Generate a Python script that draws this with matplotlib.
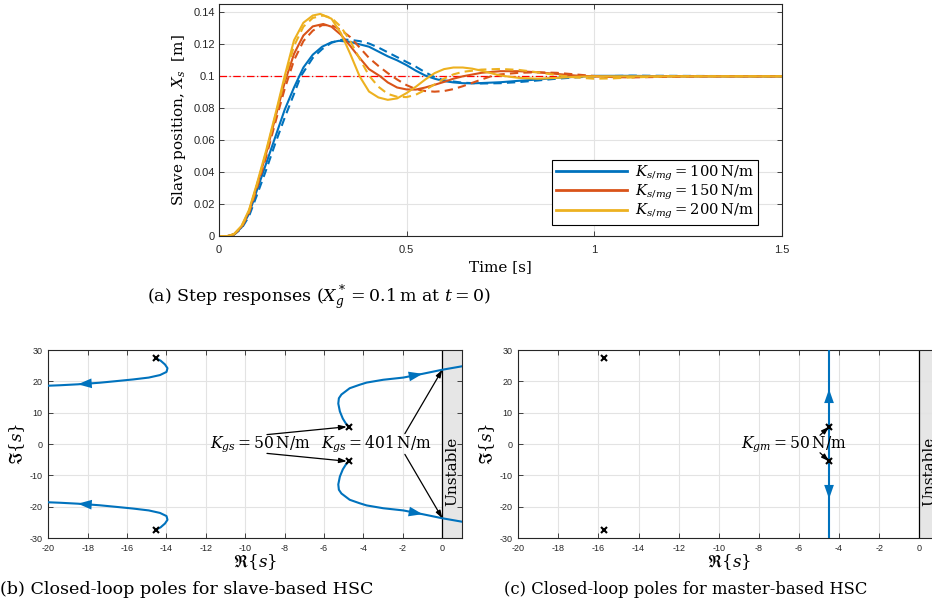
import numpy as np
import matplotlib
matplotlib.use('Agg')
import matplotlib.pyplot as plt

plt.rcParams['mathtext.fontset'] = 'dejavuserif'
plt.rcParams['axes.unicode_minus'] = False
SERIF = ['DejaVu Serif']
SANS = ['Liberation Sans', 'DejaVu Sans']

BLUE = '#0072BD'
ORANGE = '#D95319'
YELLOW = '#EDB120'
AXC = '#262626'

# ---------------- step responses (slave position vs time) ----------------
t_rise = [0.0, 0.02, 0.04, 0.06, 0.08, 0.1, 0.125, 0.15]

t_100 = t_rise + [0.175, 0.2, 0.225, 0.25, 0.275, 0.3, 0.32, 0.35, 0.375, 0.4, 0.425, 0.45,
                  0.475, 0.5, 0.525, 0.55, 0.575, 0.6, 0.625, 0.65, 0.675, 0.7, 0.75, 0.8,
                  0.85, 0.9, 0.95, 1.0, 1.1, 1.2, 1.5]
x_100 = [0.0, 0.0, 0.0012, 0.0055, 0.014, 0.028, 0.045, 0.062,
         0.079, 0.093, 0.1055, 0.1135, 0.1185, 0.1213, 0.1222, 0.1215, 0.12, 0.1185, 0.1155, 0.1125,
         0.11, 0.107, 0.1035, 0.1005, 0.0985, 0.097, 0.0962, 0.0957, 0.0956, 0.0958, 0.0963, 0.0972,
         0.098, 0.099, 0.0997, 0.1003, 0.1003, 0.1, 0.1]
t_100d = t_rise + [0.175, 0.2, 0.218, 0.25, 0.275, 0.3, 0.33, 0.35, 0.375, 0.4, 0.425, 0.45,
                   0.475, 0.5, 0.525, 0.55, 0.575, 0.6, 0.65, 0.7, 0.75, 0.8, 0.85, 0.9,
                   0.95, 1.0, 1.1, 1.2, 1.5]
x_100d = [0.0, 0.0, 0.001, 0.0048, 0.0125, 0.025, 0.041, 0.058,
          0.074, 0.089, 0.1, 0.1115, 0.117, 0.121, 0.123, 0.1228, 0.122, 0.1205, 0.118, 0.115,
          0.112, 0.109, 0.106, 0.1025, 0.0995, 0.0975, 0.096, 0.0955, 0.0957, 0.0964, 0.0974, 0.0985,
          0.0993, 0.1, 0.1004, 0.1003, 0.1]

t_150 = t_rise + [0.175, 0.2, 0.225, 0.25, 0.278, 0.3, 0.325, 0.35, 0.375, 0.4, 0.43, 0.45,
                  0.475, 0.5, 0.525, 0.55, 0.575, 0.6, 0.625, 0.65, 0.7, 0.75, 0.8, 0.85,
                  0.9, 0.95, 1.0, 1.05, 1.1, 1.2, 1.5]
x_150 = [0.0, 0.0, 0.0013, 0.006, 0.0155, 0.031, 0.051, 0.074,
         0.096, 0.114, 0.1255, 0.1312, 0.1327, 0.131, 0.126, 0.119, 0.1115, 0.1045, 0.1, 0.0962,
         0.093, 0.0918, 0.0917, 0.093, 0.0947, 0.0965, 0.0985, 0.1, 0.1022, 0.1032, 0.1032, 0.1025,
         0.1015, 0.1005, 0.1, 0.0997, 0.0997, 0.1, 0.1]
t_150d = t_rise + [0.175, 0.2, 0.225, 0.25, 0.275, 0.3, 0.325, 0.35, 0.375, 0.4, 0.425, 0.45,
                   0.475, 0.5, 0.525, 0.55, 0.575, 0.6, 0.625, 0.65, 0.7, 0.725, 0.75, 0.8,
                   0.85, 0.9, 0.95, 1.0, 1.05, 1.1, 1.2, 1.3, 1.5]
x_150d = [0.0, 0.0, 0.0012, 0.0055, 0.0145, 0.029, 0.049, 0.071,
          0.092, 0.11, 0.122, 0.1285, 0.132, 0.132, 0.129, 0.1245, 0.118, 0.1115, 0.1065, 0.102,
          0.098, 0.0945, 0.092, 0.0908, 0.0904, 0.0908, 0.092, 0.0938, 0.098, 0.1, 0.1012, 0.1022,
          0.1025, 0.1022, 0.1012, 0.1002, 0.0995, 0.0993, 0.0997, 0.1, 0.1]

t_200 = t_rise + [0.175, 0.2, 0.225, 0.25, 0.27, 0.3, 0.325, 0.35, 0.375, 0.4, 0.425, 0.45,
                  0.475, 0.5, 0.525, 0.55, 0.575, 0.6, 0.625, 0.65, 0.675, 0.7, 0.725, 0.75,
                  0.8, 0.85, 0.9, 0.95, 1.0, 1.5]
x_200 = [0.0, 0.0, 0.0014, 0.0065, 0.0165, 0.032, 0.053, 0.076,
         0.1, 0.1225, 0.1335, 0.138, 0.139, 0.136, 0.127, 0.114, 0.1, 0.0905, 0.0868, 0.0853,
         0.0862, 0.0895, 0.0935, 0.098, 0.102, 0.1045, 0.1055, 0.1055, 0.1048, 0.1035, 0.102, 0.1005,
         0.099, 0.0985, 0.099, 0.0997, 0.1, 0.1]
t_200d = t_rise + [0.175, 0.2, 0.225, 0.25, 0.278, 0.3, 0.325, 0.35, 0.375, 0.4, 0.425, 0.45,
                   0.475, 0.5, 0.525, 0.55, 0.575, 0.6, 0.625, 0.65, 0.7, 0.75, 0.8, 0.85,
                   0.9, 0.95, 1.0, 1.05, 1.1, 1.2, 1.5]
x_200d = [0.0, 0.0, 0.0013, 0.006, 0.0155, 0.031, 0.052, 0.075,
          0.098, 0.119, 0.131, 0.1365, 0.138, 0.1365, 0.131, 0.122, 0.111, 0.1005, 0.0935, 0.089,
          0.0872, 0.087, 0.0885, 0.0915, 0.095, 0.0985, 0.1012, 0.1028, 0.1042, 0.1046, 0.104, 0.1025,
          0.1008, 0.0993, 0.0985, 0.0987, 0.0993, 0.1, 0.1]

x_ref = 0.1
stiffness_labels = [r'$K_{s/mg} = 100\,\mathrm{N/m}$',
                    r'$K_{s/mg} = 150\,\mathrm{N/m}$',
                    r'$K_{s/mg} = 200\,\mathrm{N/m}$']

# ---------------- root loci ----------------
# slave-based HSC: far pole pair branches (upper; lower is the mirror)
far_re = [-14.55, -14.3, -14.08, -13.95, -14.0, -14.33, -14.9, -15.7, -16.5, -17.4, -18.5, -19.4, -20.0]
far_im = [27.4, 26.6, 25.4, 24.2, 23.0, 22.0, 21.2, 20.6, 20.1, 19.55, 19.05, 18.75, 18.6]
far_arrow = 9
# slave-based HSC: near pole pair branches (upper; lower is the mirror)
near_re = [-4.75, -4.9, -5.05, -5.2, -5.28, -5.25, -5.12, -4.7, -4.2, -3.84, -3.0, -1.98, -1.0, 0.0, 1.0]
near_im = [5.5, 6.6, 8.1, 10.4, 12.9, 14.6, 15.8, 17.8, 18.9, 19.6, 20.5, 21.2, 22.4, 23.7, 24.8]
near_arrow = 11
# master-based HSC
m_far_re = -15.75
m_far_im = 27.4
m_near_re = -4.5
m_near_im = 5.5
m_line_im = [-30, -17.5, -5.5, 5.5, 17.5, 30]

fig = plt.figure(figsize=(9.32, 6.10), dpi=100)


def style_axes(ax, fs, pad=3):
    for s in ax.spines.values():
        s.set_color(AXC)
        s.set_linewidth(0.8)
    ax.tick_params(direction='in', which='both', top=True, right=True, length=3.5,
                   width=0.6, color=AXC, labelcolor=AXC, labelsize=fs, pad=pad)
    for lab in ax.get_xticklabels() + ax.get_yticklabels():
        lab.set_family(SANS)
    ax.grid(True, color='#e3e3e3', linewidth=0.8)
    ax.set_axisbelow(True)


# ---- (a) step responses ----
ax = fig.add_axes([219 / 932, 1 - 236.3 / 610, 562.5 / 932, 232.3 / 610])
ax.set_xlim(0, 1.5)
ax.set_ylim(0, 0.1452)
ax.set_xticks([0, 0.5, 1, 1.5])
ax.set_xticklabels(['0', '0.5', '1', '1.5'])
ax.set_yticks(np.arange(0, 0.141, 0.02))
ax.set_yticklabels(['0', '0.02', '0.04', '0.06', '0.08', '0.1', '0.12', '0.14'])
style_axes(ax, 8)
ax.tick_params(axis='x', pad=6)

ax.axhline(x_ref, color='#ff0000', lw=0.9, ls=(0, (6, 2, 1, 2)), zorder=1)
lw = 1.5
dash = (0, (4, 2.5))
h1, = ax.plot(t_100, x_100, color=BLUE, lw=lw)
ax.plot(t_100d, x_100d, color=BLUE, lw=lw, ls=dash)
h2, = ax.plot(t_150, x_150, color=ORANGE, lw=lw)
ax.plot(t_150d, x_150d, color=ORANGE, lw=lw, ls=dash)
h3, = ax.plot(t_200, x_200, color=YELLOW, lw=lw)
ax.plot(t_200d, x_200d, color=YELLOW, lw=lw, ls=dash)

leg = ax.legend([h1, h2, h3], stiffness_labels, loc='lower right',
                bbox_to_anchor=(0.958, 0.049), fontsize=10.6, handlelength=4.8,
                labelspacing=0.0, borderpad=0.25, handletextpad=0.6,
                fancybox=False, framealpha=1, edgecolor='black', borderaxespad=0)
leg.get_frame().set_linewidth(0.8)
for ln in leg.get_lines():
    ln.set_linewidth(2.0)

ax.set_xlabel('Time [s]', family=SERIF, fontsize=11, labelpad=4)
ax.set_ylabel(r'Slave position, $X_s$  [m]', family=SERIF, fontsize=11, labelpad=4)

fig.text(147 / 932, 1 - 298 / 610, r'(a) Step responses ($X_g^* = 0.1\,\mathrm{m}$ at $t = 0$)',
         family=SERIF, fontsize=12.5, ha='left', va='center')


def locus_axes(rect):
    a = fig.add_axes(rect)
    a.set_xlim(-20, 1)
    a.set_ylim(-30, 30)
    a.set_xticks(np.arange(-20, 1, 2))
    a.set_yticks(np.arange(-30, 31, 10))
    style_axes(a, 6.5, pad=4)
    a.axvspan(0, 1, color='#e6e6e6', zorder=0.5, lw=0)
    a.axvline(0, color='black', lw=0.9, zorder=2)
    a.text(0.5, -8.7, 'Unstable', rotation=90, ha='center', va='center', family=SERIF,
           fontsize=11, zorder=3)
    a.set_xlabel(r'$\Re\{s\}$', fontsize=12, labelpad=0)
    a.set_ylabel(r'$\Im\{s\}$', fontsize=12, labelpad=2)
    return a


def flow_arrow(a, xs, ys, i):
    a.annotate('', xy=(xs[i + 1], ys[i + 1]), xytext=(xs[i], ys[i]),
               arrowprops=dict(arrowstyle='-|>,head_length=1.0,head_width=0.35',
                               color=BLUE, lw=0, shrinkA=0, shrinkB=0), zorder=4)


def note_arrow(a, head, tail):
    a.annotate('', xy=head, xytext=tail,
               arrowprops=dict(arrowstyle='-|>,head_length=0.45,head_width=0.15',
                               color='black', lw=0.9, shrinkA=0, shrinkB=0), zorder=5)


# ---- (b) slave-based HSC ----
axb = locus_axes([48.3 / 932, 1 - 538 / 610, 413.7 / 932, 188 / 610])
for sgn in (1, -1):
    im_far = [sgn * v for v in far_im]
    im_near = [sgn * v for v in near_im]
    axb.plot(far_re, im_far, color=BLUE, lw=1.5, zorder=3)
    axb.plot(near_re, im_near, color=BLUE, lw=1.5, zorder=3)
    flow_arrow(axb, far_re, im_far, far_arrow)
    flow_arrow(axb, near_re, im_near, near_arrow)
    axb.plot([far_re[0], near_re[0]], [im_far[0], im_near[0]], 'x', color='black',
             ms=4, mew=1.5, zorder=6)
    note_arrow(axb, (near_re[0] - 0.1, im_near[0]), (-8.9, sgn * 3.0))
    note_arrow(axb, (near_re[-2], im_near[-2]), (-1.9, sgn * 3.3))
axb.text(-9.25, 0, r'$K_{gs} = 50\,\mathrm{N/m}$', fontsize=11.2, ha='center', va='center',
         zorder=6)
axb.text(-3.35, 0, r'$K_{gs} = 401\,\mathrm{N/m}$', fontsize=11.2, ha='center', va='center',
         zorder=6)
fig.text(0.0, 1 - 590 / 610, '(b) Closed-loop poles for slave-based HSC',
         family=SERIF, fontsize=12.6, ha='left', va='center')

# ---- (c) master-based HSC ----
axc = locus_axes([518.3 / 932, 1 - 538 / 610, 421 / 932, 188 / 610])
m_line_re = [m_near_re] * len(m_line_im)
axc.plot(m_line_re, m_line_im, color=BLUE, lw=1.5, zorder=3)
flow_arrow(axc, m_line_re, m_line_im, 3)
flow_arrow(axc, m_line_re[::-1], m_line_im[::-1], 3)
for sgn in (1, -1):
    axc.plot([m_far_re, m_near_re], [sgn * m_far_im, sgn * m_near_im], 'x', color='black',
             ms=4, mew=1.5, zorder=6)
    note_arrow(axc, (m_near_re, sgn * m_near_im), (-4.95, sgn * 2.8))
axc.text(-6.25, 0, r'$K_{gm} = 50\,\mathrm{N/m}$', fontsize=11.2, ha='center', va='center',
         zorder=6)
fig.text(504 / 932, 1 - 590 / 610, '(c) Closed-loop poles for master-based HSC',
         family=SERIF, fontsize=11.8, ha='left', va='center')

fig.savefig('out.png', dpi=100)
